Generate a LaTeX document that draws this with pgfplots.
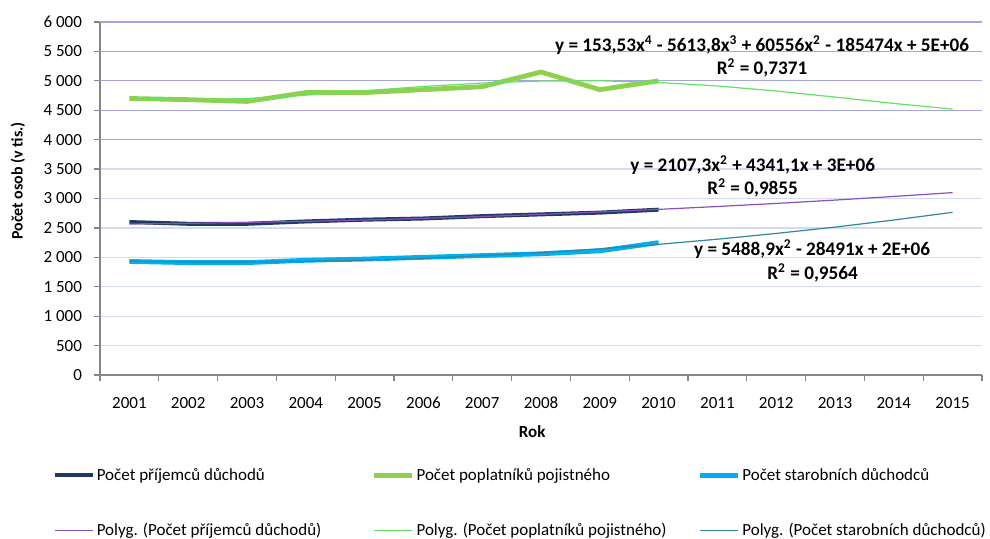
\documentclass[border=0pt]{standalone}
\usepackage{fontspec}
\setmainfont{Carlito}
\usepackage{pgfplots}
\pgfplotsset{compat=1.18}
\definecolor{navyline}{HTML}{1F3A60}
\definecolor{greenline}{HTML}{8FD14F}
\definecolor{blueline}{HTML}{00B0F0}
\definecolor{purpletr}{HTML}{8A4FBF}
\definecolor{greentr}{HTML}{66E066}
\definecolor{tealtr}{HTML}{31859C}
\definecolor{axisgray}{HTML}{868686}
\definecolor{gridlight}{HTML}{D3DAF3}
\definecolor{gridlav}{HTML}{A4A4DE}
\begin{document}
\fontsize{8.5}{10}\selectfont
\begin{tikzpicture}
\useasboundingbox (0,0) rectangle (495pt,269.5pt);
\begin{axis}[
  at={(50pt,82pt)}, anchor=south west,
  scale only axis, width=441pt, height=176.5pt,
  xmin=0.5, xmax=15.5, ymin=0, ymax=6000,
  clip=false,
  axis x line=bottom, axis y line=left,
  axis line style={-, draw=axisgray, line width=0.6pt},
  tick align=outside,
  major tick length=3pt,
  tick style={draw=axisgray, line width=0.6pt},
  xtick={0.5,1.5,...,15.5},
  xticklabels={2001,2002,2003,2004,2005,2006,2007,2008,2009,2010,2011,2012,2013,2014,2015,{}},
  xticklabel style={xshift=14.7pt, yshift=-5pt},
  ytick={0,500,...,6000},
  yticklabel style={xshift=-3pt},
  ymajorgrids,
  grid style={gridlight, line width=0.6pt},
  extra y ticks={4000,4500,5000,5500,6000},
  extra y tick labels={},
  extra y tick style={grid=major, major grid style={gridlav, line width=0.6pt}},
  /pgf/number format/assume math mode=true,
  /pgf/number format/1000 sep={\ },
  xlabel={Rok},
  xlabel style={font=\bfseries, at={(axis description cs:0.49,-0.161)}, anchor=center},
  ylabel={Počet osob (v tis.)},
  ylabel style={font=\fontsize{8}{9.5}\selectfont\bfseries, at={(axis description cs:-0.093,0.55)}, anchor=center},
  legend columns=3,
  legend cell align=left,
  legend style={at={(rel axis cs:-0.054,-0.251)}, anchor=north west, draw=none, fill=none,
    column sep=0pt, row sep=16.3pt, inner sep=0pt, nodes={inner xsep=1pt}},
  legend image code/.code={\draw[#1] (0pt,0pt) -- (19pt,0pt);},
]
\addplot[navyline, line width=2pt] coordinates {
 (1,2600)(2,2570)(3,2570)(4,2610)(5,2640)(6,2660)(7,2700)(8,2730)(9,2760)(10,2810)};
\addlegendentry{\makebox[136.5pt][l]{Počet příjemců důchodů}}
\addplot[greenline, line width=2.4pt] coordinates {
 (1,4700)(2,4680)(3,4650)(4,4800)(5,4800)(6,4850)(7,4900)(8,5150)(9,4850)(10,5000)};
\addlegendentry{\makebox[139.5pt][l]{Počet poplatníků pojistného}}
\addplot[blueline, line width=2.4pt] coordinates {
 (1,1930)(2,1910)(3,1910)(4,1950)(5,1970)(6,2000)(7,2030)(8,2060)(9,2110)(10,2250)};
\addlegendentry{Počet starobních důchodců}
\addplot[purpletr, line width=0.6pt] coordinates {
 (1,2567)(2,2578)(3,2593)(4,2612)(5,2635)(6,2663)(7,2694)(8,2730)(9,2771)(10,2815)(11,2864)(12,2916)(13,2973)(14,3035)(15,3100)};
\addlegendentry{\makebox[136.5pt][l]{Polyg. (Počet příjemců důchodů)}}
\addplot[greentr, line width=0.6pt] coordinates {
 (1,4720)(2,4679)(3,4699)(4,4757)(5,4831)(6,4904)(7,4962)(8,4996)(9,5001)(10,4972)(11,4913)(12,4827)(13,4724)(14,4616)(15,4519)};
\addlegendentry{\makebox[139.5pt][l]{Polyg. (Počet poplatníků pojistného)}}
\addplot[tealtr, line width=0.6pt] coordinates {
 (1,1934)(2,1922)(3,1921)(4,1931)(5,1952)(6,1984)(7,2027)(8,2080)(9,2145)(10,2221)(11,2308)(12,2406)(13,2514)(14,2634)(15,2765)};
\addlegendentry{Polyg. (Počet starobních důchodců)}
\begin{scope}[every node/.style={font=\fontsize{9.6}{11}\selectfont\bfseries}]
\node at (axis cs:11.76,5610) {y = 153,53x\textsuperscript{4} - 5613,8x\textsuperscript{3} + 60556x\textsuperscript{2} - 185474x + 5E+06};
\node at (axis cs:11.76,5219) {R\textsuperscript{2} = 0,7371};
\node at (axis cs:11.6,3570) {y = 2107,3x\textsuperscript{2} + 4341,1x + 3E+06};
\node at (axis cs:11.6,3179) {R\textsuperscript{2} = 0,9855};
\node at (axis cs:12.61,2142) {y = 5488,9x\textsuperscript{2} - 28491x + 2E+06};
\node at (axis cs:12.62,1734) {R\textsuperscript{2} = 0,9564};
\end{scope}
\end{axis}
\end{tikzpicture}
\end{document}
